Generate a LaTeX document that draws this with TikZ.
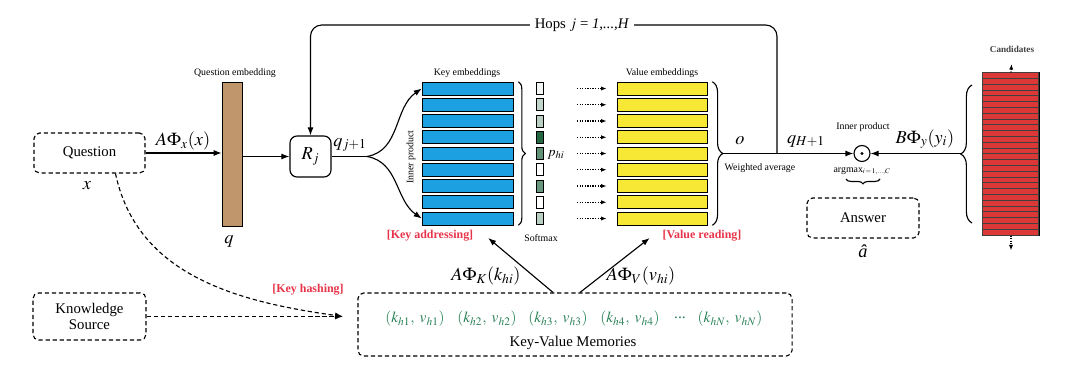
\documentclass[tikz,border=0pt]{standalone}
\usepackage{mathptmx}
\usepackage[no-math]{fontspec}
\setmainfont{Liberation Serif}
\usetikzlibrary{positioning,arrows.meta,decorations.pathreplacing,calc}

\definecolor{keyblue}{RGB}{28,160,226}
\definecolor{valyellow}{RGB}{246,232,52}
\definecolor{qbrown}{RGB}{192,150,108}
\definecolor{candred}{RGB}{220,56,56}
\definecolor{smgreen}{RGB}{36,104,66}
\definecolor{memgreen}{RGB}{40,128,86}
\definecolor{tagred}{RGB}{232,52,74}

\begin{document}
\begin{tikzpicture}[
    x=0.025cm, y=-0.025cm,
    dbox/.style={draw, densely dashed, thick, rounded corners=4pt, align=center, font=\fontsize{10.5}{12}\selectfont},
    bar/.style={draw, thin, minimum height=0.325cm, inner sep=0pt},
    keybar/.style={bar, fill=keyblue, minimum width=2.275cm},
    valbar/.style={bar, fill=valyellow, minimum width=2.25cm},
    softbox/.style={draw, thin, minimum width=0.175cm, minimum height=0.3cm, inner sep=0pt},
    arr/.style={-{Latex[length=2mm]}, thick},
    dotarr/.style={-{Latex[length=1.4mm]}, densely dotted, thick},
    dasharr/.style={-{Latex[length=2mm]}, densely dashed, thick},
    tiny/.style={font=\fontsize{7}{8}\selectfont},
    mlab/.style={font=\fontsize{13}{14}\selectfont},
    memitem/.style={font=\fontsize{11}{12}\selectfont, text=memgreen},
    tag/.style={font=\fontsize{8.5}{9}\selectfont\bfseries, text=tagred},
    brace/.style={decorate, decoration={brace, amplitude=#1}, thick}
]
\useasboundingbox (0,0) rectangle (1080,374);

% question side
\node[dbox, minimum width=2.775cm, minimum height=1cm] (quest) at (89.5,153) {Question};
\node[mlab] (xlab) at (87,186) {$x$};
\node[draw, thin, fill=qbrown, minimum width=0.5cm, minimum height=3.6cm, inner sep=0pt] (qvec) at (232,154) {};
\node[tiny] (qlab) at (235,73) {Question embedding};
\node[mlab] (qsym) at (229,241) {$q$};
\node[mlab] (lqx) at (183,141) {$A\Phi_x(x)$};
\node[draw, thick, rounded corners=5pt, minimum width=1.025cm, minimum height=1.025cm, mlab] (rj) at (310.5,156.5) {$R_j$};
\draw[arr] (quest.east) -- (quest.east -| qvec.west);
\draw[arr] (qvec.east |- rj) -- (rj.west);

% addressing
\coordinate (split) at (367,156.5);
\draw[thick] (rj.east) -- (split);
\node[mlab] (qj) at (350,145) {$q_{j+1}$};
\foreach \i/\s in {1/6,2/28,3/32,4/100,5/72,6/0,7/68,8/0,9/32} {
  \node[keybar] (key\i) at (467.5,{88.5+(\i-1)*16.25}) {};
  \node[softbox, fill=smgreen!\s!white] (soft\i) at (539.5,{88.5+(\i-1)*16.25}) {};
  \node[valbar] (val\i) at (662,{88.5+(\i-1)*16.25}) {};
  \draw[dotarr, shorten <=0.85cm, shorten >=0.25cm] (soft\i) -- (val\i);
}
\draw[arr] (split) to[out=10, in=215] (key1.west);
\draw[arr] (split) to[out=-10, in=145] (key9.west);
\node[tiny, rotate=90] (ip) at (411,157) {Inner product};
\node[tiny] (klab) at (467,73) {Key embeddings};
\node[tiny] (vlab) at (662,73) {Value embeddings};
\draw[brace=5pt] ($(key1.north east)+(5,0)$) -- ($(key9.south east)+(5,0)$);
\node[font=\fontsize{10}{11}\selectfont] (phi) at (556,155) {$p_{hi}$};
\node[tiny] (smax) at (541,238) {Softmax};
\draw[brace=7.5pt] ($(val1.north east)+(5,0)$) -- ($(val9.south east)+(5,0)$);
\coordinate (otip) at (723,153.5);
\node[mlab] (olab) at (740,141) {$o$};
\node[tiny] (wavg) at (760,168) {Weighted average};

% answer side
\node[circle, draw, thick, minimum size=0.4cm, inner sep=0pt] (dot) at (862,153.5) {};
\fill (dot) circle (1.1pt);
\node[tiny] (iplab) at (863,127) {Inner product};
\node[mlab] (qh) at (806,141) {$q_{H+1}$};
\draw[arr] (otip) -- (dot);
\node[font=\fontsize{7}{8}\selectfont] (amax) at (862,171) {argmax$_{i\,=\,1,\ldots,C}$};
\draw[brace=3.5pt] (880,179) -- (846,179);
\node[dbox, minimum width=2.8cm, minimum height=1cm] (ans) at (863,218) {Answer};
\node[mlab, below=1pt of ans] (ahat) {\textit{â}};

% hops loop
\coordinate (hopsrc) at (777,153.5);
\node[font=\fontsize{10.5}{12}\selectfont] (hops) at (582,25) {Hops $j$ = \textit{1,...,H}};
\draw[thick, rounded corners=8pt] (hopsrc) |- (hops.east);
\draw[arr, rounded corners=8pt] (hops.west) -| (rj.north);

% candidates
\node[draw, thin, minimum width=1.4cm, minimum height=4.06cm, inner sep=0pt] (cand) at (1011,154) {};
\foreach \k in {0,...,27}
  \draw[fill=candred, draw=black!75, thin] ($(cand.north west)+(0,{\k*5.8})$) rectangle +(56,5.8);
\node[font=\fontsize{6.5}{7}\selectfont\bfseries, text=black!75] (clab) at (1012,49) {Candidates};
\draw[dotarr, shorten >=0.17cm] (cand.north) -- (clab.south);
\coordinate (cend) at ($(cand.south)+(0,15)$);
\draw[dotarr] (cand.south) -- (cend);
\draw[brace=8pt] (972,223) -- (972,85);
\coordinate (ctip) at (961,153.5);
\draw[arr] (ctip) -- (dot);
\node[mlab] (by) at (925,139) {$B\Phi_y(y_i)$};

% memories
\node[dbox, minimum width=2.825cm, minimum height=1.175cm] (ks) at (89.5,316.5) {Knowledge\\Source};
\node[dbox, minimum width=10.85cm, minimum height=1.575cm] (kv) at (575,324.5) {};
\coordinate (hash) at (343,316.5);
\draw[dasharr] (ks.east) -- (hash);
\draw[dasharr] ($(quest.south)+(26,0)$) to[out=-78, in=172] (hash);
\node[tag] (khash) at (308,290) {[Key hashing]};
\foreach \n/\x/\t in {m1/415/1, m2/487/2, m3/558/3, m4/630/4}
  \node[memitem] (\n) at (\x,319) {$(k_{h\t},\;v_{h\t})$};
\node[memitem] (mdots) at (680,318) {...};
\node[memitem] (mN) at (730,319) {$(k_{hN},\;v_{hN})$};
\node[font=\fontsize{10.5}{12}\selectfont] (kvlab) at (573,343) {Key-Value Memories};
\node[tag] (kaddr) at (430,236) {[Key addressing]};
\node[tag] (vread) at (702,236) {[Value reading]};
\draw[arr] ($(kv.north)+(-22,0)$) -- ($(kaddr.east)+(10,2)$);
\draw[arr] ($(kv.north)+(5,0)$) -- ($(vread.west)+(-8,2)$);
\node[mlab] (lk) at (486,276) {$A\Phi_K(k_{hi})$};
\node[mlab] (lv) at (641,276) {$A\Phi_V(v_{hi})$};

\end{tikzpicture}
\end{document}
